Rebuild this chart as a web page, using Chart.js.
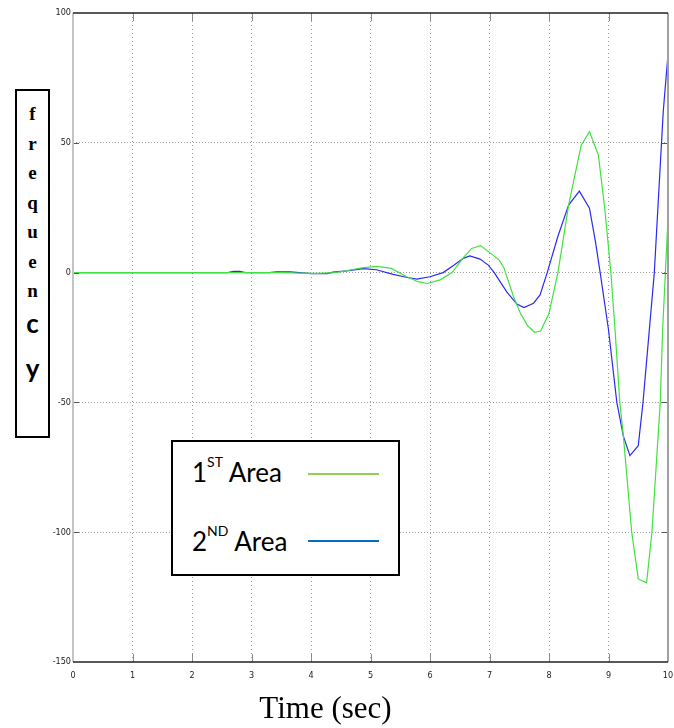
<!DOCTYPE html>
<html>
<head>
<meta charset="utf-8">
<script src="https://cdn.jsdelivr.net/npm/chart.js@4.4.1/dist/chart.umd.min.js"></script>
<style>
  html, body { margin: 0; padding: 0; background: #fff; }
  #wrap { position: relative; width: 674px; height: 728px; overflow: hidden; }
  #myChart { position: absolute; left: 0; top: 0; }
  .ylabel {
    position: absolute; left: 15px; top: 89px; width: 31px; height: 345px;
    border: 2px solid #000; background: #fff; text-align: center;
  }
  .ylabel .s { font: bold 19px 'Liberation Serif', serif; line-height: 29.5px; height: 29.5px; }
  .ylabel .b { font: bold 26px Lato, sans-serif; line-height: 30px; height: 30px; }
  .legend {
    position: absolute; left: 171px; top: 440px; width: 225px; height: 132px;
    border: 2px solid #000; background: #fff;
  }
  .legend .row { position: absolute; left: 19px; font: 26px Lato, sans-serif; line-height: 26px; color: #000; white-space: nowrap; }
  .legend .row sup { font-size: 14px; vertical-align: 15px; line-height: 0; }
  .legend .swatch { position: absolute; left: 135px; width: 71px; height: 2.5px; }
  .xtitle {
    position: absolute; left: 0; width: 651px; top: 691px; text-align: center;
    font: 31px 'Liberation Serif', 'Times New Roman', serif; line-height: 34px; color: #000;
  }
</style>
</head>
<body>
<div id="wrap">
  <canvas id="myChart" width="674" height="728"></canvas>
  <div class="ylabel">
    <div style="height:8px"></div>
    <div class="s">f</div><div class="s">r</div><div class="s">e</div><div class="s">q</div>
    <div class="s">u</div><div class="s">e</div><div class="s">n</div>
    <div class="b" style="margin-top:2px">c</div>
    <div class="b" style="margin-top:15px">y</div>
  </div>
  <div class="legend" id="legend"></div>
  <div class="xtitle">Time (sec)</div>
</div>
<script>
// data

const area1_t = [0, 3.5, 3.8, 4.1, 4.4, 4.6, 4.85, 5.1, 5.35, 5.6, 5.8, 5.95, 6.17, 6.37, 6.55, 6.7, 6.85, 7.02, 7.16, 7.24, 7.4, 7.52, 7.64, 7.76, 7.86, 8.0, 8.15, 8.33, 8.54, 8.68, 8.83, 8.94, 9.04, 9.11, 9.19, 9.25, 9.39, 9.5, 9.64, 9.73, 9.87, 9.91, 10]
const area1_v = [0, 0, -0.2, -0.3, 0, 0.7, 1.8, 2.4, 1.6, -1.5, -3.5, -4.2, -2.8, 0, 5.5, 9.3, 10.4, 7.4, 4.9, 2, -9, -15.7, -20.5, -23, -22.5, -15.7, 0, 26, 49, 54.3, 45.3, 24, 0, -22, -50, -63, -100, -118, -119.5, -100, -50, -22, 21]

const area2_t = [0, 2.6, 2.7, 2.8, 2.9, 3.3, 3.42, 3.65, 3.8, 4.0, 4.27, 4.37, 4.6, 4.88, 5.1, 5.38, 5.6, 5.78, 6.0, 6.22, 6.4, 6.56, 6.67, 6.84, 6.98, 7.08, 7.29, 7.46, 7.58, 7.74, 7.85, 7.97, 8.15, 8.33, 8.51, 8.68, 8.78, 8.86, 9.0, 9.14, 9.25, 9.36, 9.5, 9.58, 9.77, 9.92, 10]
const area2_v = [0, 0, 0.5, 0.5, 0, 0, 0.3, 0.3, 0, -0.4, -0.4, 0.2, 0.7, 1.5, 1.1, -0.7, -1.8, -2.5, -1.6, 0, 2.8, 5.5, 6.4, 5.2, 2.9, 0, -7.4, -12.1, -13.5, -11.8, -8.6, 0, 14, 26, 31.4, 24.8, 12, 0, -22, -50, -63, -70.5, -66.7, -50, 0, 62, 84]

const series_names = [['1', 'ST', ' Area'], ['2', 'ND', ' Area']]
const legend_colors = ['#92D050', '#0070C0']

const x_min = 0, x_max = 10, x_step = 1
const y_min = -150, y_max = 100, y_step = 50

const toPoints = (t, v) => t.map((x, i) => ({ x: x, y: v[i] }))

// frame + inner tick marks like the matlab scope
const framePlugin = {
  id: 'frame',
  afterDatasetsDraw(chart) {
    const { ctx, chartArea: a, scales } = chart
    ctx.save()
    ctx.lineWidth = 1
    ctx.strokeStyle = '#8a8a8a'
    scales.x.ticks.forEach(t => {
      if (t.value === x_min || t.value === x_max) return
      const px = Math.round(scales.x.getPixelForValue(t.value)) + 0.5
      ctx.beginPath()
      ctx.moveTo(px, a.top); ctx.lineTo(px, a.top + 8)
      ctx.moveTo(px, a.bottom); ctx.lineTo(px, a.bottom - 8)
      ctx.stroke()
    })
    ctx.strokeStyle = '#555'
    scales.y.ticks.forEach(t => {
      if (t.value === y_min || t.value === y_max) return
      const py = Math.round(scales.y.getPixelForValue(t.value)) + 0.5
      ctx.beginPath()
      ctx.moveTo(a.left, py); ctx.lineTo(a.left + 6, py)
      ctx.moveTo(a.right, py); ctx.lineTo(a.right - 6, py)
      ctx.stroke()
    })
    // borders
    ctx.lineWidth = 2
    ctx.strokeStyle = '#c4c4c4'
    ctx.beginPath(); ctx.moveTo(a.left, a.top); ctx.lineTo(a.left, a.bottom); ctx.stroke()
    ctx.strokeStyle = '#a0a0a0'
    ctx.beginPath(); ctx.moveTo(a.right, a.top); ctx.lineTo(a.right, a.bottom); ctx.stroke()
    ctx.lineWidth = 1.6
    ctx.strokeStyle = '#222'
    ctx.beginPath(); ctx.moveTo(a.left, a.top); ctx.lineTo(a.right, a.top); ctx.stroke()
    ctx.beginPath(); ctx.moveTo(a.left, a.bottom); ctx.lineTo(a.right, a.bottom); ctx.stroke()
    ctx.restore()
  }
}

const tickFont = { family: "'Liberation Sans Narrow', 'DejaVu Sans Condensed', sans-serif", size: 9 }

const ctx = document.getElementById('myChart').getContext('2d')
const myChart = new Chart(ctx, {
  type: 'line',
  data: {
    datasets: [{
      label: series_names[0].join(''),
      data: toPoints(area1_t, area1_v),
      borderColor: '#3fe23f',
      borderWidth: 1.2,
      pointRadius: 0,
      tension: 0,
      fill: false,
    },
    {
      label: series_names[1].join(''),
      data: toPoints(area2_t, area2_v),
      borderColor: '#2a2af5',
      borderWidth: 1.2,
      pointRadius: 0,
      tension: 0,
      fill: false,
    }]
  },
  options: {
    responsive: false,
    animation: false,
    events: [],
    layout: { padding: { top: 13, right: 0, left: 0, bottom: 0 } },
    plugins: {
      legend: { display: false },
      tooltip: { enabled: false },
    },
    scales: {
      x: {
        type: 'linear',
        min: x_min,
        max: x_max,
        ticks: { stepSize: x_step, font: tickFont, color: '#222', padding: 8, maxRotation: 0 },
        grid: {
          drawTicks: false,
          lineWidth: 1,
          color: c => (c.tick && (c.tick.value === x_min || c.tick.value === x_max)) ? 'rgba(0,0,0,0)' : '#9a9a9a',
        },
        border: { display: false, dash: [1, 3] },
        afterFit: s => {
          s.height = 66
          s.paddingLeft = 0
          s.paddingRight = 6
        },
      },
      y: {
        type: 'linear',
        min: y_min,
        max: y_max,
        ticks: { stepSize: y_step, font: tickFont, color: '#222', padding: 2 },
        grid: {
          drawTicks: false,
          lineWidth: 1,
          color: c => (c.tick && (c.tick.value === y_min || c.tick.value === y_max)) ? 'rgba(0,0,0,0)' : '#9a9a9a',
        },
        border: { display: false, dash: [1, 2] },
        afterFit: s => { s.width = 73 },
      }
    }
  },
  plugins: [framePlugin]
})

// html legend (needs superscripts)
const legend = document.getElementById('legend')
const rowTops = [17, 86]
const lineTops = [30.5, 97.5]
series_names.forEach((parts, i) => {
  const row = document.createElement('div')
  row.className = 'row'
  row.style.top = rowTops[i] + 'px'
  row.innerHTML = parts[0] + '<sup>' + parts[1] + '</sup>' + parts[2]
  legend.appendChild(row)
  const sw = document.createElement('div')
  sw.className = 'swatch'
  sw.style.top = lineTops[i] + 'px'
  sw.style.background = legend_colors[i]
  legend.appendChild(sw)
})
</script>
</body>
</html>
